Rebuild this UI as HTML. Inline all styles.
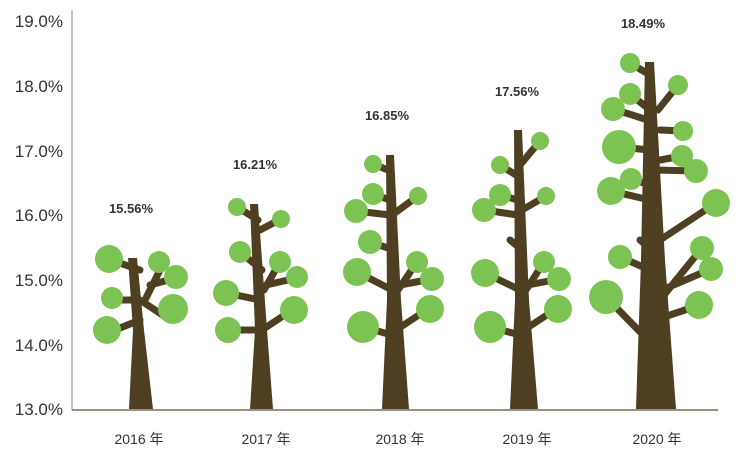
<!DOCTYPE html>
<html><head><meta charset="utf-8"><style>
body{margin:0;background:#fff}
svg text{font-family:"Liberation Sans","Noto Sans CJK SC",sans-serif}
</style></head><body>
<svg width="740" height="459" viewBox="0 0 740 459" xmlns="http://www.w3.org/2000/svg">
<g font-size="17" fill="#333" text-anchor="end">
<text x="63" y="27">19.0%</text><text x="63" y="92">18.0%</text><text x="63" y="157">17.0%</text>
<text x="63" y="221">16.0%</text><text x="63" y="286">15.0%</text><text x="63" y="351">14.0%</text>
<text x="63" y="415">13.0%</text>
</g>
<line x1="72" y1="10" x2="72" y2="410" stroke="#888" stroke-width="1"/>
<line x1="72" y1="410" x2="718" y2="410" stroke="#7a6e5a" stroke-width="1.5"/>
<g stroke="#4f3f22" stroke-width="7" stroke-linecap="round" fill="none">
<path d="M140 300 L170 320 M140 320 L110 332 M138 300 L112 300 M140 270 L111 260 M145 300 L162 266 M150 285 L176 278"/>
<path d="M262 330 L292 310 M260 330 L228 330 M260 300 L226 293 M262 270 L240 252 M264 290 L280 262 M266 285 L297 278 M258 220 L237 207 M260 230 L281 219"/>
<path d="M396 330 L428 309 M392 335 L363 327 M392 290 L357 272 M394 250 L370 242 M398 290 L417 262 M400 285 L432 279 M390 215 L356 211 M390 200 L373 194 M388 170 L373 164 M392 215 L418 196"/>
<path d="M524 330 L556 309 M520 335 L490 327 M520 290 L485 273 M522 250 L510 240 M526 290 L544 262 M528 285 L559 279 M518 215 L484 210 M518 200 L500 195 M516 175 L500 165 M520 165 L540 141 M522 210 L546 196"/>
<path d="M655 320 L700 305 M648 340 L606 297 M650 270 L620 257 M652 250 L640 240 M660 300 L702 248 M662 290 L711 269 M660 240 L716 203 M655 170 L696 171 M650 200 L611 191 M650 185 L631 179 M650 150 L619 147 M648 120 L613 109 M650 110 L630 94 M650 75 L630 63 M660 130 L683 131 M660 160 L682 156 M658 110 L678 85"/>
</g>
<g fill="#4f3f22">
<path d="M128 258 L137 258 L144 330 L153 409 L129 409 L133 330 Z"/>
<path d="M250 204 L258 204 L267 330 L273 409 L250 409 L255 330 Z"/>
<path d="M386 155 L394 155 L401 300 L409 409 L382 409 L387 300 Z"/>
<path d="M514 130 L522 130 L529 300 L538 409 L510 409 L515 300 Z"/>
<path d="M645 62 L654 62 L665 260 L676 409 L636 409 L641 260 Z"/>
</g>
<g fill="#7dc353">
<circle cx="109" cy="259" r="14"/><circle cx="159" cy="262" r="11"/><circle cx="176" cy="277" r="12"/><circle cx="112" cy="298" r="11"/><circle cx="107" cy="330" r="14"/><circle cx="173" cy="309" r="15"/>
<circle cx="237" cy="207" r="9"/><circle cx="281" cy="219" r="9"/><circle cx="240" cy="252" r="11"/><circle cx="280" cy="262" r="11"/><circle cx="297" cy="277" r="11"/><circle cx="226" cy="293" r="13"/><circle cx="294" cy="310" r="14"/><circle cx="228" cy="330" r="13"/>
<circle cx="373" cy="164" r="9"/><circle cx="418" cy="196" r="9"/><circle cx="373" cy="194" r="11"/><circle cx="356" cy="211" r="12"/><circle cx="370" cy="242" r="12"/><circle cx="417" cy="262" r="11"/><circle cx="432" cy="279" r="12"/><circle cx="357" cy="272" r="14"/><circle cx="430" cy="309" r="14"/><circle cx="363" cy="327" r="16"/>
<circle cx="540" cy="141" r="9"/><circle cx="500" cy="165" r="9"/><circle cx="546" cy="196" r="9"/><circle cx="500" cy="195" r="11"/><circle cx="484" cy="210" r="12"/><circle cx="544" cy="262" r="11"/><circle cx="559" cy="279" r="12"/><circle cx="485" cy="273" r="14"/><circle cx="558" cy="309" r="14"/><circle cx="490" cy="327" r="16"/>
<circle cx="630" cy="63" r="10"/><circle cx="678" cy="85" r="10"/><circle cx="630" cy="94" r="11"/><circle cx="613" cy="109" r="12"/><circle cx="683" cy="131" r="10"/><circle cx="619" cy="147" r="17"/><circle cx="682" cy="156" r="11"/><circle cx="611" cy="191" r="14"/><circle cx="631" cy="179" r="11"/><circle cx="696" cy="171" r="12"/><circle cx="716" cy="203" r="14"/><circle cx="620" cy="257" r="12"/><circle cx="702" cy="248" r="12"/><circle cx="711" cy="269" r="12"/><circle cx="606" cy="297" r="17"/><circle cx="699" cy="305" r="14"/>
</g>
<g font-size="13" font-weight="bold" fill="#333" text-anchor="middle">
<text x="131" y="213">15.56%</text><text x="255" y="169">16.21%</text><text x="387" y="120">16.85%</text>
<text x="517" y="96">17.56%</text><text x="643" y="28">18.49%</text>
</g>
<g font-size="14" fill="#333" text-anchor="middle">
<text x="139" y="444">2016 年</text><text x="266" y="444">2017 年</text><text x="400" y="444">2018 年</text>
<text x="527" y="444">2019 年</text><text x="657" y="444">2020 年</text>
</g>
</svg>
</body></html>
